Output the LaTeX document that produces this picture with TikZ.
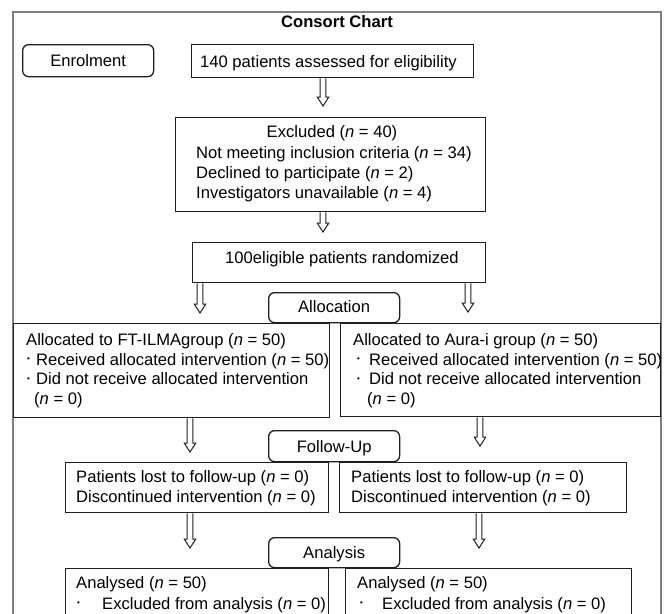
\documentclass[tikz,border=0pt]{standalone}
\usepackage{fontspec}
\setmainfont{Liberation Sans}
\usetikzlibrary{calc}
\newcommand{\nn}{\textit{n}}
\newcommand{\bul}[1]{\makebox[#1][l]{\raisebox{3.2pt}{\fontsize{8}{8}\selectfont •}}}
\begin{document}
\begin{tikzpicture}[x=1pt,y=-1pt,
  txt/.style={font=\fontsize{16.6}{19.5}\selectfont, inner sep=0pt, anchor=base west},
  ctxt/.style={txt, anchor=base},
  box/.style={draw=black!88, line width=1.3pt, anchor=north west, inner sep=0pt},
  rbox/.style={box, rounded corners=6pt, fill=white},
  frame/.style={draw=black!50, line width=1.1pt},
  hollow/.style={draw=black!88, line width=1pt, fill=white,
    to path={let \p1=(\tikztostart), \p2=(\tikztotarget) in
      (\x1-2.8pt,\y1) -- (\x1-2.8pt,\y2+9pt) -- (\x1-5.8pt,\y2+9pt) -- (\x2,\y2)
      -- (\x1+5.8pt,\y2+9pt) -- (\x1+2.8pt,\y2+9pt) -- (\x1+2.8pt,\y1)}},
]
\path[use as bounding box, clip] (0,0) rectangle (668,613);
\fill[white] (0,0) rectangle (668,613);
\draw[frame] (13,12) rectangle (661,640);

% boxes
\node[rbox, minimum width=131pt, minimum height=32pt] (enrol) at (22,44) {};
\node[box, minimum width=282pt, minimum height=33pt] (assess) at (191,44) {};
\node[box, minimum width=310pt, minimum height=94pt] (excl) at (175,117) {};
\node[box, minimum width=293pt, minimum height=40pt] (rand) at (192,242) {};
\node[box, minimum width=316pt, minimum height=94pt] (allocL) at (13,323) {};
\node[box, minimum width=320pt, minimum height=93pt] (allocR) at (340,323) {};
\node[rbox, minimum width=131pt, minimum height=30pt] (alloclab) at (268,292) {};
\node[box, minimum width=263pt, minimum height=50pt] (fuL) at (65,462) {};
\node[box, minimum width=287pt, minimum height=50pt] (fuR) at (339,462) {};
\node[rbox, minimum width=131pt, minimum height=31pt] (fulab) at (268,430) {};
\node[box, minimum width=263pt, minimum height=82pt] (anL) at (65,568) {};
\node[box, minimum width=286pt, minimum height=82pt] (anR) at (345,568) {};
\node[rbox, minimum width=131pt, minimum height=30pt] (anlab) at (268,537) {};

% texts
\node[ctxt, font=\fontsize{16.6}{19.5}\selectfont\bfseries] (title) at (337,27) {Consort Chart};
\node[ctxt] (tenrol) at (enrol.center |- 0,66) {Enrolment};
\node[txt] (tassess) at (200,67) {140 patients assessed for eligibility};
\node[ctxt] (tex1) at (332,137.5) {Excluded (\nn{} = 40)};
\node[txt] (tex2) at (196,158) {Not meeting inclusion criteria (\nn{} = 34)};
\node[txt] (tex3) at (196,178) {Declined to participate (\nn{} = 2)};
\node[txt] (tex4) at (196,198) {Investigators unavailable (\nn{} = 4)};
\node[txt] (trand) at (225,263.5) {100eligible patients randomized};
\node[ctxt] (talloc) at (alloclab.center |- 0,312.5) {Allocation};
\node[txt] (tal1) at (26,345.5) {Allocated to FT-ILMAgroup (\nn{} = 50)};
\node[txt] (tal2) at (27,365) {\bul{9pt}Received allocated intervention (\nn{} = 50)};
\node[txt] (tal3) at (27,384.5) {\bul{9pt}Did not receive allocated intervention};
\node[txt] (tal4) at (34,404) {(\nn{} = 0)};
\node[txt] (tar1) at (353,345.5) {Allocated to Aura-i group (\nn{} = 50)};
\node[txt] (tar2) at (357,365) {\bul{12pt}Received allocated intervention (\nn{} = 50)};
\node[txt] (tar3) at (357,384.5) {\bul{12pt}Did not receive allocated intervention};
\node[txt] (tar4) at (367,404) {(\nn{} = 0)};
\node[ctxt] (tfu) at (fulab.center |- 0,452) {Follow-Up};
\node[txt] (tfl1) at (76,482.5) {Patients lost to follow-up (\nn{} = 0)};
\node[txt] (tfl2) at (76,502) {Discontinued intervention (\nn{} = 0)};
\node[txt] (tfr1) at (351,482.5) {Patients lost to follow-up (\nn{} = 0)};
\node[txt] (tfr2) at (351,502) {Discontinued intervention (\nn{} = 0)};
\node[ctxt] (tan) at (anlab.center |- 0,558.5) {Analysis};
\node[txt] (tanl1) at (76,588.5) {Analysed (\nn{} = 50)};
\node[txt] (tanl2) at (77,609) {\bul{25pt}Excluded from analysis (\nn{} = 0)};
\node[txt] (tanr1) at (357,588.5) {Analysed (\nn{} = 50)};
\node[txt] (tanr2) at (360,609) {\bul{22pt}Excluded from analysis (\nn{} = 0)};

% arrows
\coordinate (a1) at (323,106);
\coordinate (a2) at (323,232);
\coordinate (a3) at (200,313);
\coordinate (a4) at (468,312);
\coordinate (a5) at (190,452);
\coordinate (a6) at (480,446);
\coordinate (a7) at (190,548);
\coordinate (a8) at (479,548);
\draw[hollow] (assess.south -| a1) to (a1);
\draw[hollow] (excl.south -| a2) to (a2);
\draw[hollow] (rand.south -| a3) to (a3);
\draw[hollow] (rand.south -| a4) to (a4);
\draw[hollow] (allocL.south -| a5) to (a5);
\draw[hollow] (allocR.south -| a6) to (a6);
\draw[hollow] (fuL.south -| a7) to (a7);
\draw[hollow] (fuR.south -| a8) to (a8);
\end{tikzpicture}
\end{document}
